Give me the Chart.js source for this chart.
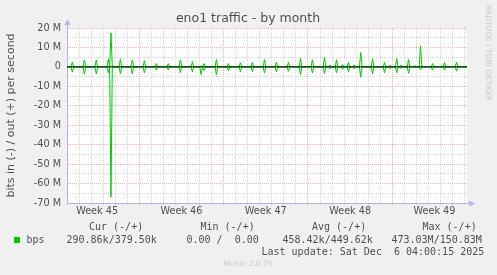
<!DOCTYPE html>
<html>
<head>
<meta charset="utf-8">
<script src="https://cdn.jsdelivr.net/npm/chart.js@4/dist/chart.umd.min.js"></script>
<style>
  html, body { margin: 0; padding: 0; background: #f0f0f0; }
  #wrap { width: 497px; height: 275px; }
</style>
</head>
<body>
<div id="wrap"><canvas id="chart" width="497" height="275"></canvas></div>
<script>
// x is in days from the left edge of the graph (2 hours per pixel, 400 px)
const X_MAX = 33.2;
const weekLabels = ["Week 45", "Week 46", "Week 47", "Week 48", "Week 49"];
const weekStarts = [-1, 6, 13, 20, 27];

// y ticks (bits per second)
const yTicks = [20e6, 10e6, 0, -10e6, -20e6, -30e6, -40e6, -50e6, -60e6, -70e6];

// traffic spikes (Mbit/s)
const spikeDays = [0.44, 1.44, 2.43, 3.43, 3.65, 4.43, 5.42, 6.42, 7.42, 8.41,
                   9.41, 10.41, 11.13, 11.38, 12.40, 13.40, 14.39, 15.39, 16.39, 17.38,
                   18.38, 19.38, 20.37, 21.37, 21.84, 22.37, 22.87, 23.36, 23.83, 24.38,
                   25.36, 26.35, 26.83, 27.37, 27.74, 28.35, 28.90, 29.34, 30.34, 31.33,
                   32.33, 33.10];
const outPeaks = [2.4, 3.6, 3.6, 4.0, 17.5, 4.0, 3.6, 3.2, 1.7, 1.7,
                  3.6, 2.7, 0.5, 1.7, 3.8, 1.7, 2.2, 2.4, 3.8, 2.5,
                  2.3, 4.3, 3.7, 5.0, 1.0, 3.7, 1.2, 2.3, 1.0, 7.4,
                  4.2, 2.3, 1.0, 4.2, 1.0, 3.8, 0.6, 10.9, 1.7, 2.2,
                  2.5, 0.3];
const inPeaks = [-2.7, -3.8, -3.6, -3.0, -67, -3.5, -3.6, -3.0, -1.7, -1.7,
                 -3.0, -2.5, -4.0, -1.9, -4.0, -2.0, -2.5, -2.4, -3.2, -2.5,
                 -2.3, -4.0, -3.2, -3.5, -1.0, -3.0, -1.2, -2.5, -1.0, -5.3,
                 -3.6, -3.0, -1.0, -3.0, -0.8, -3.3, -0.3, -1.5, -1.7, -1.7,
                 -2.2, -0.3];

// legend values
const legendHead = ["Cur (-/+)", "Min (-/+)", "Avg (-/+)", "Max (-/+)"];
const legendVals = ["290.86k/379.50k", "0.00 /  0.00", "458.42k/449.62k", "473.03M/150.83M"];

const GREEN = "#00cc00";
const MINOR = "rgba(140,140,140,0.35)";
const MAJOR = "rgba(230,80,80,0.45)";
const AXIS = "#b4b4ec";

function spikeSeries(peaks) {
  const pts = [{x: 0, y: 0}];
  spikeDays.forEach((d, i) => {
    pts.push({x: d - 0.11, y: 0}, {x: d, y: peaks[i] * 1e6}, {x: d + 0.11, y: 0});
  });
  pts.push({x: X_MAX, y: 0});
  return pts;
}

const weekMids = weekStarts.map(s => s + 3.5);
const dayTicks = [];
for (let d = 0; d <= 33; d++) dayTicks.push(d);

const decor = {
  id: "decor",
  beforeDraw(chart) {
    const {ctx, chartArea: a} = chart;
    ctx.save();
    ctx.fillStyle = "#f0f0f0";
    ctx.fillRect(0, 0, chart.width, chart.height);
    ctx.fillStyle = "#ffffff";
    ctx.fillRect(a.left, a.top, a.right - a.left, a.bottom - a.top);
    ctx.restore();
  },
  afterDraw(chart) {
    const {ctx, chartArea: a} = chart;
    ctx.save();
    // axis extensions + arrows
    ctx.strokeStyle = AXIS; ctx.fillStyle = AXIS; ctx.lineWidth = 1;
    ctx.beginPath();
    ctx.moveTo(a.left + 0.5, a.top); ctx.lineTo(a.left + 0.5, a.top - 6);
    ctx.moveTo(a.right, a.bottom + 0.5); ctx.lineTo(a.right + 5, a.bottom + 0.5);
    ctx.stroke();
    ctx.beginPath();
    ctx.moveTo(a.left + 0.5, a.top - 9); ctx.lineTo(a.left - 2.5, a.top - 3); ctx.lineTo(a.left + 3.5, a.top - 3);
    ctx.closePath(); ctx.fill();
    ctx.beginPath();
    ctx.moveTo(a.right + 8, a.bottom + 0.5); ctx.lineTo(a.right + 2, a.bottom - 2.5); ctx.lineTo(a.right + 2, a.bottom + 3.5);
    ctx.closePath(); ctx.fill();

    // title
    ctx.fillStyle = "#505050";
    ctx.textBaseline = "middle";
    ctx.textAlign = "center";
    ctx.font = "12.5px 'DejaVu Sans'";
    ctx.fillText("eno1 traffic - by month", 248, 19);

    // y title
    ctx.save();
    ctx.translate(11, 115.5);
    ctx.rotate(-Math.PI / 2);
    ctx.font = "11px 'DejaVu Sans'";
    ctx.fillText("bits in (-) / out (+) per second", 0, 0);
    ctx.restore();

    // rrdtool watermark
    ctx.save();
    ctx.translate(488, 53);
    ctx.rotate(Math.PI / 2);
    ctx.fillStyle = "#c8c8c8";
    ctx.font = "7.5px 'DejaVu Sans'";
    ctx.fillText("RRDTOOL / TOBI OETIKER", 0, 0);
    ctx.restore();

    // legend
    ctx.textAlign = "left";
    ctx.fillStyle = "#505050";
    ctx.font = "10px 'DejaVu Sans Mono'";
    const headX = [89, 200.5, 312, 422.5];
    const valX = [66.5, 186.5, 282.5, 391.5];
    legendHead.forEach((t, i) => ctx.fillText(t, headX[i], 227));
    ctx.fillText("bps", 26.5, 240);
    legendVals.forEach((t, i) => ctx.fillText(t, valX[i], 240));
    ctx.fillText("Last update: Sat Dec  6 04:00:15 2025", 261.5, 252);
    ctx.fillStyle = GREEN;
    ctx.fillRect(14, 237, 6, 6);

    ctx.fillStyle = "#c8c8c8";
    ctx.textAlign = "center";
    ctx.font = "7.5px 'DejaVu Sans'";
    ctx.fillText("Munin 2.0.76", 248, 264);
    ctx.restore();
  }
};

new Chart(document.getElementById("chart"), {
  type: "line",
  data: {
    datasets: [
      {
        label: "zero",
        data: [{x: 0, y: 0}, {x: X_MAX, y: 0}],
        borderColor: "#000000",
        borderWidth: 1,
        pointRadius: 0,
        order: 0
      },
      {
        label: "out",
        data: spikeSeries(outPeaks),
        borderColor: GREEN,
        borderWidth: 1,
        pointRadius: 0,
        order: 1
      },
      {
        label: "in",
        data: spikeSeries(inPeaks),
        borderColor: GREEN,
        borderWidth: 1,
        pointRadius: 0,
        order: 1
      }
    ]
  },
  options: {
    responsive: false,
    animation: false,
    events: [],
    layout: { padding: { left: 0, top: 28, right: 30, bottom: 0 } },
    plugins: { legend: { display: false }, tooltip: { enabled: false } },
    scales: {
      x: {
        type: "linear",
        min: 0,
        max: X_MAX,
        afterFit(s) { s.height = 72; },
        afterBuildTicks(s) {
          s.ticks = dayTicks.concat(weekMids).sort((a, b) => a - b).map(v => ({value: v}));
        },
        ticks: {
          autoSkip: false,
          maxRotation: 0,
          padding: 1,
          color: "#505050",
          font: { family: "'DejaVu Sans'", size: 9.7 },
          callback: (v) => {
            const i = weekMids.indexOf(v);
            return i >= 0 ? weekLabels[i] : "";
          }
        },
        grid: {
          color: (c) => {
            const v = c.tick ? c.tick.value : null;
            if (v === null || !Number.isInteger(v)) return "rgba(0,0,0,0)";
            return weekStarts.includes(v) ? MAJOR : MINOR;
          },
          tickLength: 2,
          tickBorderDash: []
        },
        border: { color: AXIS, dash: [1, 1] }
      },
      y: {
        min: -70e6,
        max: 20e6,
        afterFit(s) { s.width = 67; },
        ticks: {
          stepSize: 5e6,
          autoSkip: false,
          padding: 6,
          color: "#505050",
          font: { family: "'DejaVu Sans'", size: 9.7 },
          callback: (v) => {
            if (!yTicks.includes(v)) return "";
            return v === 0 ? "0" : (v / 1e6) + " M";
          }
        },
        grid: {
          color: (c) => {
            const v = c.tick ? c.tick.value : null;
            if (v === null) return "rgba(0,0,0,0)";
            return yTicks.includes(v) ? MAJOR : MINOR;
          },
          drawTicks: false
        },
        border: { color: AXIS, dash: [1, 1] }
      }
    }
  },
  plugins: [decor]
});
</script>
</body>
</html>
